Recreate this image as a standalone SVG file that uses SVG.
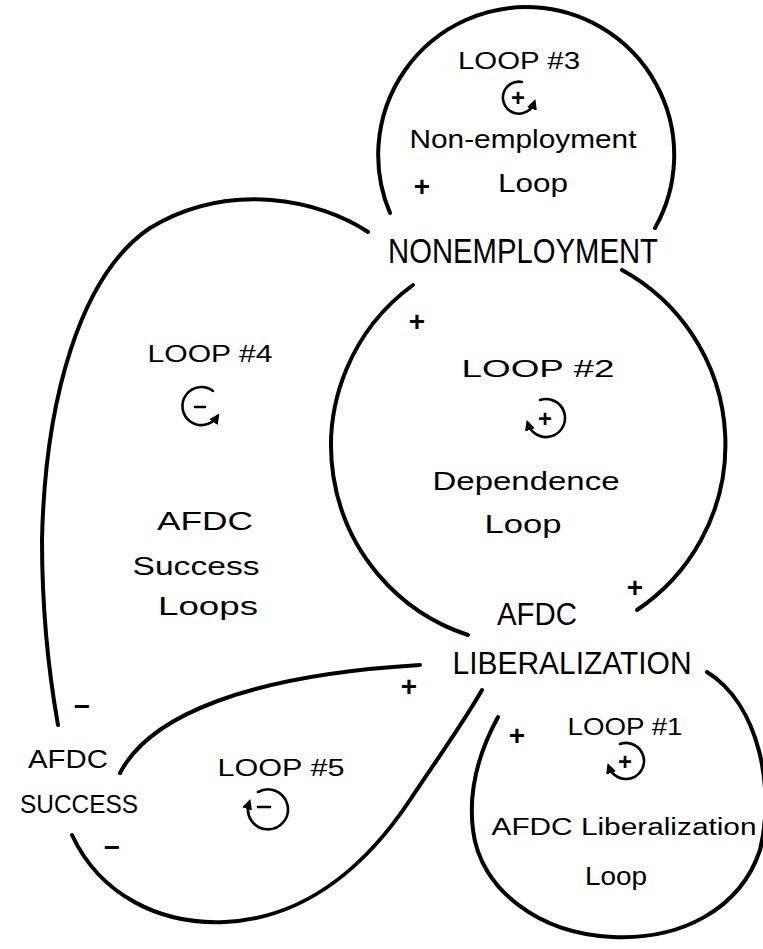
<svg xmlns="http://www.w3.org/2000/svg" width="763" height="949" viewBox="0 0 763 949">
<style>
.c{fill:none;stroke:#000;stroke-width:4;stroke-linecap:round}
.s{fill:none;stroke:#000;stroke-width:2.6;stroke-linecap:round}
text{font-family:"Liberation Sans","DejaVu Sans",sans-serif;fill:#000;text-anchor:middle}
.n{font-size:32px}
.l{font-size:24px}
.t{font-size:26px}
.p{font-size:28px;font-weight:bold}
.i{font-size:24px;font-weight:bold}
</style>
<defs>
<marker id="ah" viewBox="0 0 10 10" refX="6" refY="5" markerWidth="4" markerHeight="4" orient="auto" markerUnits="strokeWidth">
<path d="M0,0 L10,5 L0,10 Z" fill="#000"/>
</marker>
</defs>
<rect width="763" height="949" fill="#fff"/>

<g id="connectors">
<path class="c" d="M390,213 A148,148 0 1 1 655,228"/>
<path class="c" d="M368,232 C320,200 230,180 150,228 C80,275 45,400 42,540 C42,620 50,680 58,725"/>
<path class="c" d="M413,285 A199,199 0 0 0 468,635"/>
<path class="c" d="M622,270 A199,199 0 0 1 637,610"/>
<path class="c" d="M707,672 C760,705 775,790 760,850 C740,910 680,940 613,937 C540,934 480,890 473,830 C468,790 480,750 498,717"/>
<path class="c" d="M120,773 C150,715 250,675 420,665"/>
<path class="c" d="M72,835 C100,895 160,925 225,922 C310,918 370,860 410,800 C440,755 465,720 482,690"/>
</g>

<g id="polarities">
<text class="p" x="422" y="196">+</text>
<text class="p" x="417" y="331">+</text>
<text class="p" x="635" y="597">+</text>
<text class="p" x="409" y="696">+</text>
<text class="p" x="517" y="745">+</text>
<text class="p" x="82" y="716">−</text>
<text class="p" x="112" y="857">−</text>
</g>

<g id="node-nonemployment">
<text x="523" y="263" style="font-size:35px" textLength="270" lengthAdjust="spacingAndGlyphs">NONEMPLOYMENT</text>
</g>
<g id="node-afdc-liberalization">
<text class="n" x="537" y="625" textLength="80" lengthAdjust="spacingAndGlyphs">AFDC</text>
<text class="n" x="572" y="674" textLength="239" lengthAdjust="spacingAndGlyphs">LIBERALIZATION</text>
</g>
<g id="node-afdc-success">
<text class="t" x="68" y="768" textLength="80" lengthAdjust="spacingAndGlyphs">AFDC</text>
<text class="t" x="79" y="813" textLength="118" lengthAdjust="spacingAndGlyphs">SUCCESS</text>
</g>

<g id="loop3">
<text class="l" x="519" y="69" textLength="122" lengthAdjust="spacingAndGlyphs">LOOP #3</text>
<path class="s" d="M522,82 A16,16 0 1 0 534,103" marker-end="url(#ah)"/>
<text class="i" x="518" y="106">+</text>
<text class="t" x="523" y="148" textLength="227" lengthAdjust="spacingAndGlyphs">Non-employment</text>
<text class="t" x="533" y="192" textLength="70" lengthAdjust="spacingAndGlyphs">Loop</text>
</g>

<g id="loop2">
<text class="l" x="538" y="377" textLength="153" lengthAdjust="spacingAndGlyphs">LOOP #2</text>
<path class="s" d="M540,400 A19,19 0 1 1 528,424" marker-end="url(#ah)"/>
<text class="i" x="545" y="427">+</text>
<text class="t" x="526" y="490" textLength="187" lengthAdjust="spacingAndGlyphs">Dependence</text>
<text class="t" x="523" y="533" textLength="77" lengthAdjust="spacingAndGlyphs">Loop</text>
</g>

<g id="loop1">
<text class="l" x="625" y="735" textLength="115" lengthAdjust="spacingAndGlyphs">LOOP #1</text>
<path class="s" d="M620,744 A18,18 0 1 1 609,767" marker-end="url(#ah)"/>
<text class="i" x="625" y="770">+</text>
<text style="font-size:23px" x="624" y="835" textLength="265" lengthAdjust="spacingAndGlyphs">AFDC Liberalization</text>
<text class="t" x="616" y="885" textLength="62" lengthAdjust="spacingAndGlyphs">Loop</text>
</g>

<g id="loop4">
<text class="l" x="210" y="362" textLength="125" lengthAdjust="spacingAndGlyphs">LOOP #4</text>
<path class="s" d="M213,391 A19,19 0 1 0 217,417" marker-end="url(#ah)"/>
<line class="s" x1="195" y1="407" x2="205" y2="407"/>
<text class="t" x="205" y="530" textLength="96" lengthAdjust="spacingAndGlyphs">AFDC</text>
<text class="t" x="196" y="575" textLength="127" lengthAdjust="spacingAndGlyphs">Success</text>
<text class="t" x="208" y="615" textLength="100" lengthAdjust="spacingAndGlyphs">Loops</text>
</g>

<g id="loop5">
<text class="l" x="281" y="776" textLength="127" lengthAdjust="spacingAndGlyphs">LOOP #5</text>
<path class="s" d="M258,792 A20,20 0 1 1 249,803" marker-end="url(#ah)"/>
<line class="s" x1="258" y1="807" x2="270" y2="807"/>
</g>
</svg>
